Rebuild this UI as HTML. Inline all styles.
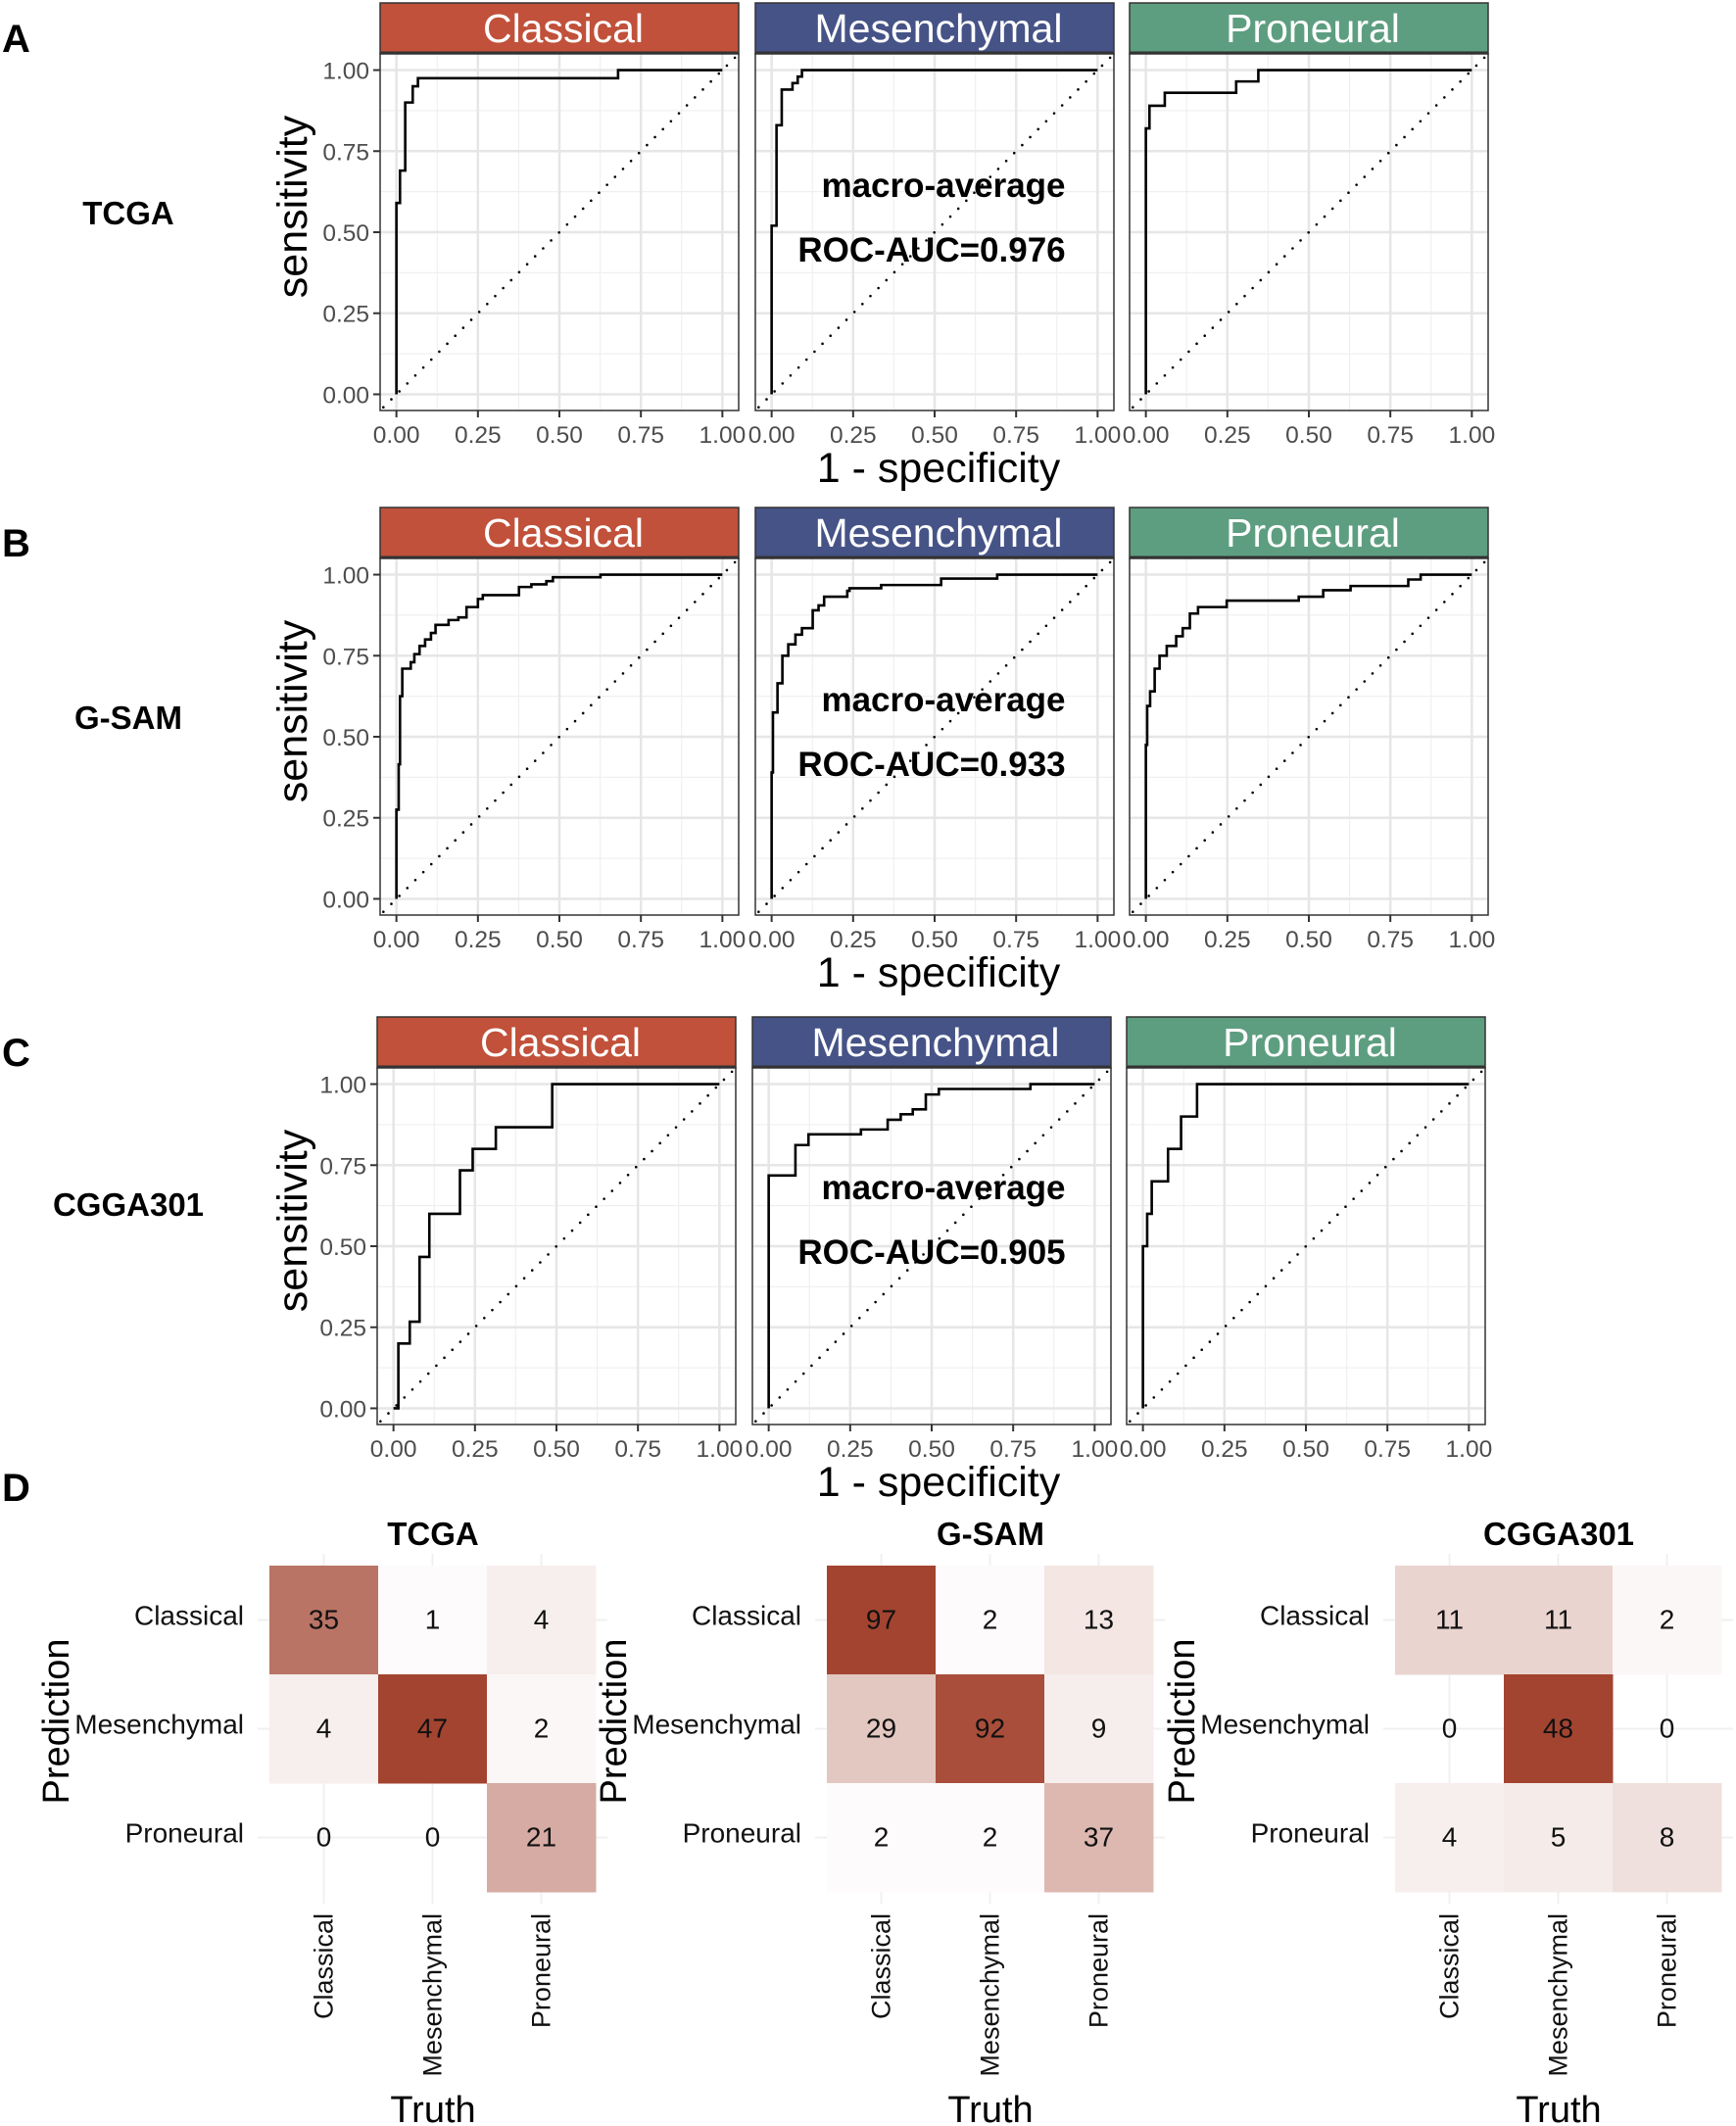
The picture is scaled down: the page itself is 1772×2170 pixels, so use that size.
<!DOCTYPE html>
<html><head><meta charset="utf-8"><style>
html,body{margin:0;padding:0;background:#fff}
svg{display:block}
text{font-family:"Liberation Sans",sans-serif}
</style></head><body>
<svg id="fig" width="1772" height="2170" viewBox="0 0 1772 2170" xmlns="http://www.w3.org/2000/svg"></svg>
<script>
const rowNames = ["TCGA","G-SAM","CGGA301"];
const rowLetters = ["A","B","C"];
const classNames = ["Classical","Mesenchymal","Proneural"];
const aucLabels = ["ROC-AUC=0.976","ROC-AUC=0.933","ROC-AUC=0.905"];
const tickLabels = ["0.00","0.25","0.50","0.75","1.00"];
const tickValues = [0,0.25,0.5,0.75,1];

const tcgaClassicalFpr = [0,0.011,0.027,0.05,0.066,0.68,1];
const tcgaClassicalTpr = [0.59,0.69,0.90,0.95,0.975,1,1];
const tcgaMesenFpr = [0,0.015,0.031,0.064,0.08,0.093,1];
const tcgaMesenTpr = [0.52,0.83,0.94,0.96,0.98,1,1];
const tcgaProneuralFpr = [0,0.011,0.058,0.277,0.345,1];
const tcgaProneuralTpr = [0.82,0.89,0.93,0.965,1,1];

const gsamClassicalFpr = [0,0.007,0.011,0.018,0.044,0.055,0.071,0.088,0.106,0.12,0.16,0.19,0.215,0.25,0.265,0.376,0.414,0.46,0.48,0.626,1];
const gsamClassicalTpr = [0.275,0.415,0.625,0.71,0.73,0.755,0.78,0.80,0.82,0.845,0.86,0.868,0.90,0.925,0.937,0.962,0.97,0.98,0.992,1,1];
const gsamMesenFpr = [0,0.004,0.018,0.033,0.051,0.073,0.093,0.126,0.144,0.161,0.232,0.239,0.336,0.52,0.692,1];
const gsamMesenTpr = [0.39,0.575,0.665,0.75,0.785,0.815,0.835,0.89,0.905,0.932,0.95,0.958,0.968,0.988,1,1];
const gsamProneuralFpr = [0,0.004,0.013,0.027,0.042,0.064,0.093,0.113,0.135,0.16,0.248,0.469,0.544,0.628,0.805,0.843,1];
const gsamProneuralTpr = [0.475,0.595,0.64,0.71,0.75,0.78,0.81,0.835,0.88,0.90,0.92,0.932,0.952,0.965,0.985,1,1];

const cggaClassicalFpr = [0,0.015,0.05,0.08,0.11,0.204,0.243,0.314,0.487,1];
const cggaClassicalTpr = [0,0.2,0.267,0.467,0.6,0.734,0.8,0.867,1,1];
const cggaMesenFpr = [0,0.082,0.122,0.283,0.365,0.405,0.442,0.482,0.522,0.803,1];
const cggaMesenTpr = [0.718,0.812,0.845,0.86,0.89,0.907,0.922,0.968,0.985,1,1];
const cggaProneuralFpr = [0,0.013,0.027,0.077,0.117,0.166,1];
const cggaProneuralTpr = [0.5,0.6,0.7,0.8,0.9,1,1];

const rocFpr = [[tcgaClassicalFpr,tcgaMesenFpr,tcgaProneuralFpr],[gsamClassicalFpr,gsamMesenFpr,gsamProneuralFpr],[cggaClassicalFpr,cggaMesenFpr,cggaProneuralFpr]];
const rocTpr = [[tcgaClassicalTpr,tcgaMesenTpr,tcgaProneuralTpr],[gsamClassicalTpr,gsamMesenTpr,gsamProneuralTpr],[cggaClassicalTpr,cggaMesenTpr,cggaProneuralTpr]];

const cmTitles = ["TCGA","G-SAM","CGGA301"];
const cmTcga = [[35,1,4],[4,47,2],[0,0,21]];
const cmGsam = [[97,2,13],[29,92,9],[2,2,37]];
const cmCgga = [[11,11,2],[0,48,0],[4,5,8]];
const cmAll = [cmTcga,cmGsam,cmCgga];

const NS="http://www.w3.org/2000/svg";
const svg=document.getElementById('fig');
function mk(tag,attrs,parent){const e=document.createElementNS(NS,tag);for(const k in attrs)e.setAttribute(k,attrs[k]);(parent||svg).appendChild(e);return e;}
function txt(s,attrs,parent){const e=mk('text',attrs,parent);e.textContent=s;return e;}

const stripColors=["#C1513A","#465387","#5E9E80"];
const rowDy=[0,515,1035];
const rowLabelY=[229,744,1241];
const macroShift=[0,10,-12];
const rowLefts=[[388,771,1153],[388,771,1153],[385,768,1150]];
const PW=366, PH=364;

for(let r=0;r<3;r++){
  const dy=rowDy[r];
  const g=mk('g',{});
  
  
  const L=txt(rowLetters[r],{x:2,y:53+dy,'font-size':40,'font-weight':'bold'},g);
  
  
  const rn=txt(rowNames[r],{x:131,y:rowLabelY[r],'font-size':33,'font-weight':'bold','text-anchor':'middle'},g);
  
  
  const top=55+dy, bottom=top+PH;
  const sl=txt('sensitivity',{x:0,y:0,'font-size':43,'text-anchor':'middle',fill:'#000',transform:`translate(313,${(top+bottom)/2-26}) rotate(-90)`},g);
  
  
  const xt=txt('1 - specificity',{x:958,y:492+dy,'font-size':43,'text-anchor':'middle'},g);
  
  
  for(let c=0;c<3;c++){
    const left=rowLefts[r][c];
    const sx=v=>left+(v+0.05)/1.1*PW;
    const sy=v=>bottom-(v+0.05)/1.1*PH;
    const pg=mk('g',{},g);
    
    
    const st=mk('rect',{x:left,y:3+dy,width:PW,height:52,fill:stripColors[c],stroke:'#333','stroke-width':1.5},pg);
    
    
    mk('line',{x1:left,x2:left+PW,y1:54+dy,y2:54+dy,stroke:'#333','stroke-width':3},pg);
    const stt=txt(classNames[c],{x:left+PW/2+4,y:43+dy,'font-size':41,'text-anchor':'middle',fill:'#fff'},pg);
    
    
    mk('rect',{x:left,y:top,width:PW,height:PH,fill:'#fff'},pg);
    for(let i=0;i<4;i++){const m=0.125+i*0.25;
      mk('line',{x1:sx(m),x2:sx(m),y1:top,y2:bottom,stroke:'#f0f0f0','stroke-width':1.2},pg);
      mk('line',{x1:left,x2:left+PW,y1:sy(m),y2:sy(m),stroke:'#f0f0f0','stroke-width':1.2},pg);}
    tickValues.forEach((v,i)=>{
      mk('line',{x1:sx(v),x2:sx(v),y1:top,y2:bottom,stroke:'#e6e6e6','stroke-width':2.5},pg);
      mk('line',{x1:left,x2:left+PW,y1:sy(v),y2:sy(v),stroke:'#e6e6e6','stroke-width':2.5},pg);
      mk('line',{x1:sx(v),x2:sx(v),y1:bottom,y2:bottom+7,stroke:'#333','stroke-width':2},pg);
      const tl=txt(tickLabels[i],{x:sx(v),y:bottom+33,'font-size':24.5,'text-anchor':'middle',fill:'#4d4d4d'},pg);
      
      
      if(c===0){
        mk('line',{x1:left-7,x2:left,y1:sy(v),y2:sy(v),stroke:'#333','stroke-width':2},pg);
        const yl=txt(tickLabels[i],{x:left-11,y:sy(v)+9,'font-size':24.5,'text-anchor':'end',fill:'#4d4d4d'},pg);
        
        
      }
    });
    const dg=mk('line',{x1:sx(-0.04),y1:sy(-0.04),x2:sx(1.04),y2:sy(1.04),stroke:'#000','stroke-width':2.6,'stroke-dasharray':'0 11.5','stroke-linecap':'round'},pg);
    
    
    const fp=rocFpr[r][c], tp=rocTpr[r][c];
    let d=`M${sx(0)},${sy(0)}`;
    for(let i=0;i<fp.length;i++){d+=` H${sx(fp[i])} V${sy(tp[i])}`;}
    const p=mk('path',{d:d,fill:'none',stroke:'#000','stroke-width':2.6},pg);
    
    
    mk('rect',{x:left,y:top,width:PW,height:PH,fill:'none',stroke:'#333','stroke-width':1.5},pg);
    if(c===1){
      const a1=txt('macro-average',{x:963,y:201+dy+macroShift[r],'font-size':35,'font-weight':'bold','text-anchor':'middle'},pg);
      
      
      const a2=txt(aucLabels[r],{x:951,y:267+dy+macroShift[r],'font-size':35,'font-weight':'bold','text-anchor':'middle'},pg);
      
      
    }
  }
}

const dL=txt('D',{x:2,y:1532,'font-size':40,'font-weight':'bold'});


const cmLefts=[275,844,1424];
const CELL=111, CTOP=1598;
function cellColor(v,max){const t=v/max;const lo=[255,255,255],hi=[163,68,48];
  return `rgb(${lo.map((a,i)=>Math.round(a+(hi[i]-a)*t)).join(',')})`;}
for(let h=0;h<3;h++){
  const L=cmLefts[h], m=cmAll[h];
  const max=Math.max(...m.flat());
  const g=mk('g',{});
  
  
  const tt=txt(cmTitles[h],{x:L+167,y:1577,'font-size':33,'font-weight':'bold','text-anchor':'middle'},g);
  
  
  for(let i=0;i<3;i++){
    const cx=L+CELL*i+CELL/2, cy=CTOP+CELL*i+CELL/2;
    mk('line',{x1:cx,x2:cx,y1:CTOP-12,y2:CTOP+3*CELL+12,stroke:'#f0f0f0','stroke-width':2},g);
    mk('line',{x1:L-12,x2:L+3*CELL+12,y1:cy,y2:cy,stroke:'#f0f0f0','stroke-width':2},g);
  }
  for(let rI=0;rI<3;rI++){for(let cI=0;cI<3;cI++){
    const v=m[rI][cI];
    const x=L+CELL*cI, y=CTOP+CELL*rI;
    if(v>0){const rc=mk('rect',{x:x,y:y,width:CELL+0.5,height:CELL+0.5,fill:cellColor(v,max)},g);
      
      }
    const ct=txt(String(v),{x:x+CELL/2,y:y+CELL/2+9,'font-size':28,'text-anchor':'middle',fill:'#111'},g);
    
    
  }}
  for(let i=0;i<3;i++){
    const rl=txt(classNames[i],{x:L-26,y:CTOP+CELL*i+CELL/2+5,'font-size':28,'text-anchor':'end',fill:'#111'},g);
    
    
    const cx=L+CELL*i+CELL/2+9;
    const cl=txt(classNames[i],{x:0,y:0,'font-size':27,'text-anchor':'end',fill:'#111',transform:`translate(${cx},1953) rotate(-90)`},g);
    
    
  }
  const pl=txt('Prediction',{x:0,y:0,'font-size':38,'text-anchor':'middle',transform:`translate(${L-205},1757) rotate(-90)`},g);
  
  
  const tr=txt('Truth',{x:L+167,y:2166,'font-size':38,'text-anchor':'middle'},g);
  
  
}
</script>
</body></html>
